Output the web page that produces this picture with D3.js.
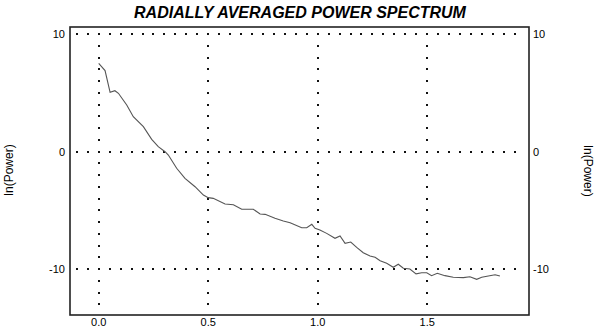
<!DOCTYPE html>
<html>
<head>
<meta charset="utf-8">
<script src="https://cdn.jsdelivr.net/npm/d3@7"></script>
<style>
body { margin: 0; background: #fff; }
svg { display: block; font-family: "Liberation Sans", Arial, sans-serif; }
</style>
</head>
<body>
<div id="chart"></div>
<script>
// radially averaged power spectrum
var freq = [0.0, 0.029, 0.052, 0.074, 0.09, 0.128, 0.158, 0.204, 0.242, 0.272,
	0.303, 0.318, 0.356, 0.394, 0.44, 0.478, 0.5, 0.523, 0.577, 0.615,
	0.653, 0.706, 0.737, 0.76, 0.805, 0.843, 0.874, 0.927, 0.95, 0.973,
	0.988, 1.01, 1.041, 1.079, 1.102, 1.125, 1.151, 1.178, 1.208, 1.239,
	1.262, 1.285, 1.315, 1.345, 1.368, 1.391, 1.421, 1.449, 1.475, 1.498,
	1.52, 1.546, 1.581, 1.619, 1.665, 1.695, 1.726, 1.749, 1.779, 1.81, 1.832];
var power = [7.52, 6.9, 5.05, 5.19, 4.97, 3.97, 2.98, 2.13, 1.05, 0.43,
	0.0, -0.28, -1.41, -2.27, -2.98, -3.69, -3.91, -3.97, -4.45, -4.51,
	-4.9, -4.9, -5.3, -5.33, -5.67, -5.9, -6.04, -6.47, -6.47, -6.18,
	-6.52, -6.66, -6.95, -7.37, -7.17, -7.8, -7.69, -8.14, -8.6, -8.88,
	-8.99, -9.28, -9.5, -9.84, -9.58, -9.92, -9.98, -10.4, -10.3, -10.3,
	-10.55, -10.35, -10.55, -10.69, -10.72, -10.64, -10.86, -10.69, -10.58, -10.47, -10.58];
var xTicks = [0.0, 0.5, 1.0, 1.5];
var yTicks = [10, 0, -10];
var title = "RADIALLY AVERAGED POWER SPECTRUM";
var yTitle = "ln(Power)";

var W = 600, H = 331;
var frame = {left: 70, right: 529, top: 27, bottom: 315};

var x = d3.scaleLinear().domain([0, 1.5]).range([98.7, 427.2]);
var y = d3.scaleLinear().domain([10, -10]).range([34.2, 269.2]);

var svg = d3.select("#chart").append("svg")
	.attr("width", W).attr("height", H);

svg.append("text")
	.attr("x", 300).attr("y", 17.5)
	.attr("text-anchor", "middle")
	.style("font-size", "16px")
	.style("font-weight", "bold")
	.style("font-style", "italic")
	.text(title);

// dotted grid: rows every 0.05 along x, columns every 1 along y
var gx = d3.range(-0.1, 1.9001, 0.05);
var gy = d3.range(-13, 10.001, 1);
var dots = [];
yTicks.forEach(function(v) {
	gx.forEach(function(u) { dots.push([x(u), y(v)]); });
});
xTicks.forEach(function(u) {
	gy.forEach(function(v) { dots.push([x(u), y(v)]); });
});
svg.append("g").selectAll("rect")
	.data(dots).enter()
	.append("rect")
	.attr("x", function(d) { return Math.round(d[0]) - 1; })
	.attr("y", function(d) { return Math.round(d[1]) - 1; })
	.attr("width", 2).attr("height", 2)
	.attr("fill", "#111");

// spectrum line
var line = d3.line()
	.x(function(d, i) { return x(freq[i]); })
	.y(function(d) { return y(d); });
svg.append("path")
	.datum(power)
	.attr("d", line)
	.attr("fill", "none")
	.attr("stroke", "#555")
	.attr("stroke-width", 1.1);

// frame
svg.append("rect")
	.attr("x", frame.left).attr("y", frame.top)
	.attr("width", frame.right - frame.left)
	.attr("height", frame.bottom - frame.top)
	.attr("fill", "none")
	.attr("stroke", "#222")
	.attr("stroke-width", 1.6);

// tick labels
svg.append("g").selectAll("text")
	.data(xTicks).enter()
	.append("text")
	.attr("x", function(d) { return x(d); })
	.attr("y", 326)
	.attr("text-anchor", "middle")
	.style("font-size", "11px")
	.text(function(d) { return d3.format(".1f")(d); });

svg.append("g").selectAll("text")
	.data(yTicks).enter()
	.append("text")
	.attr("x", 65)
	.attr("y", function(d) { return y(d); })
	.attr("dy", "0.36em")
	.attr("text-anchor", "end")
	.style("font-size", "11px")
	.text(function(d) { return d; });

svg.append("g").selectAll("text")
	.data(yTicks).enter()
	.append("text")
	.attr("x", 533)
	.attr("y", function(d) { return y(d); })
	.attr("dy", "0.36em")
	.attr("text-anchor", "start")
	.style("font-size", "11px")
	.text(function(d) { return d; });

// axis titles
svg.append("text")
	.attr("transform", "translate(13,170) rotate(-90)")
	.attr("text-anchor", "middle")
	.style("font-size", "12px")
	.text(yTitle);

svg.append("text")
	.attr("transform", "translate(584,171) rotate(90)")
	.attr("text-anchor", "middle")
	.style("font-size", "12px")
	.text(yTitle);
</script>
</body>
</html>
